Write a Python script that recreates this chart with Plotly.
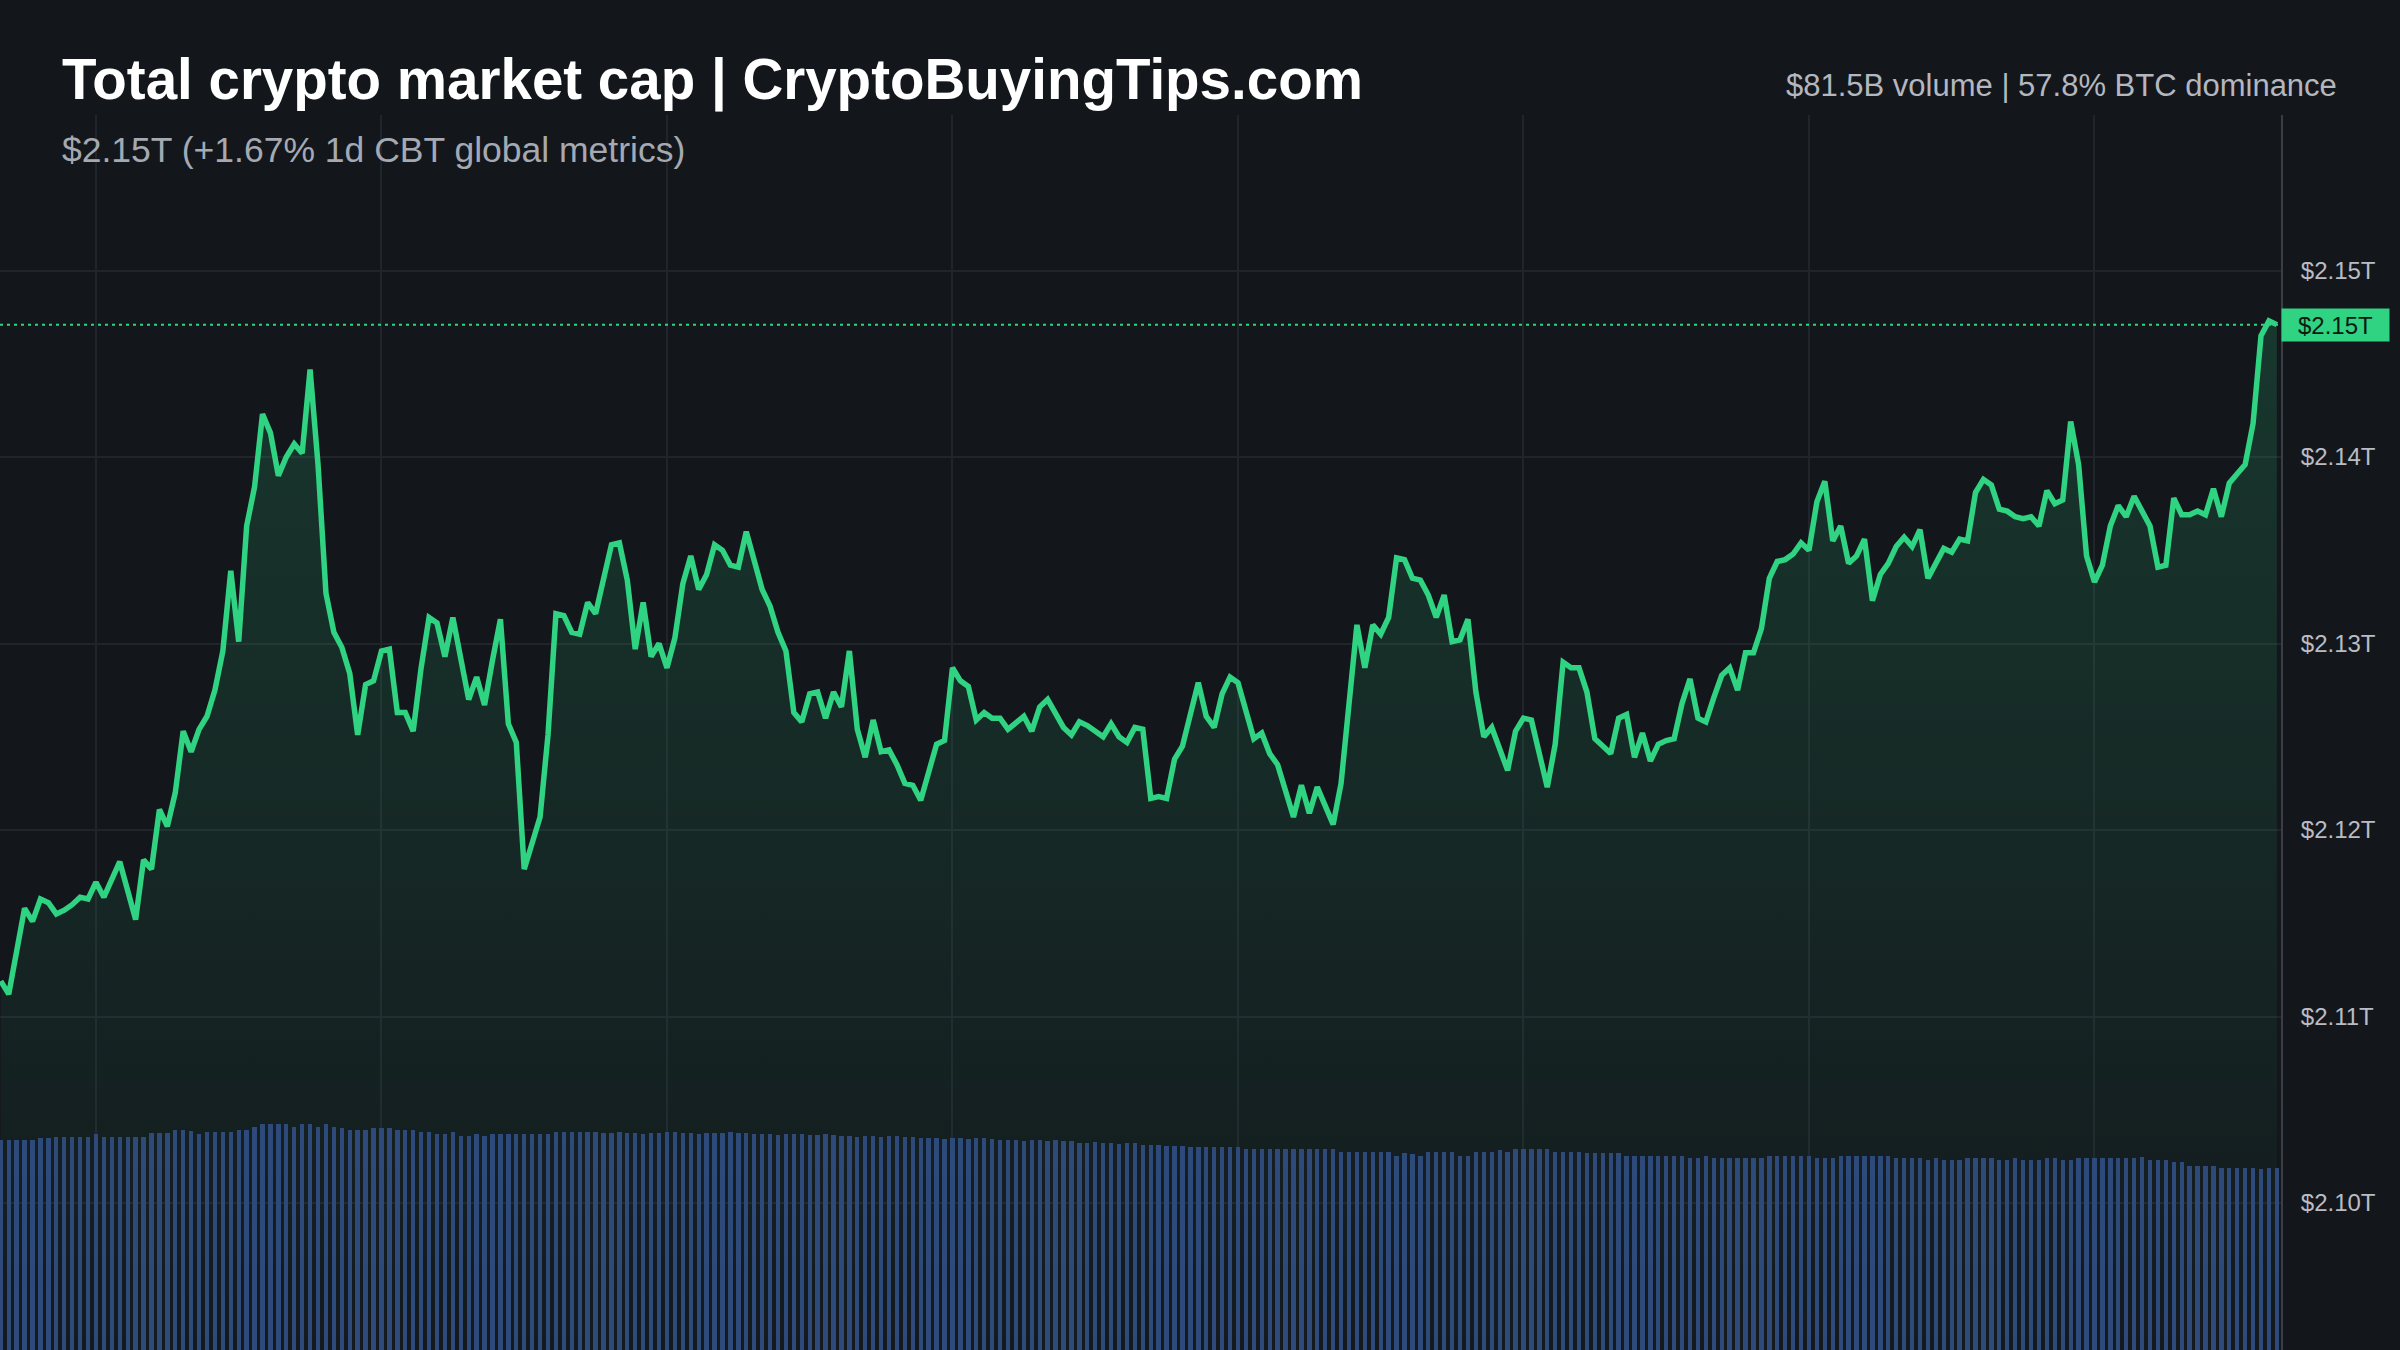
import pandas as pd
import plotly.graph_objects as go

# ---------------- text ----------------
title_text = "Total crypto market cap | CryptoBuyingTips.com"
subtitle_text = "$2.15T (+1.67% 1d CBT global metrics)"
stats_text = "$81.5B volume | 57.8% BTC dominance"
price_label = "$2.15T"

# ---------------- data ----------------
start_time = "2024-01-14 23:00"
slot_minutes = 5

# 5-minute slot index of each line vertex and market cap (trillions USD)
line_slots = [
    0, 1, 3, 4, 5, 6, 7, 8, 9, 10, 11, 12, 13, 15, 17, 18, 19, 20, 21, 22,
    23, 24, 25, 26, 27, 28, 29, 30, 31, 32, 33, 34, 35, 36, 37, 38, 39, 40, 41, 42,
    43, 44, 45, 46, 47, 48, 49, 50, 51, 52, 53, 54, 55, 56, 57, 58, 59, 60, 61, 62,
    63, 64, 65, 66, 67, 68, 69, 70, 71, 72, 73, 74, 75, 77, 78, 79, 80, 81, 82, 83,
    84, 85, 86, 87, 88, 89, 90, 91, 92, 93, 94, 95, 96, 97, 98, 99, 100, 101, 102, 103,
    104, 105, 106, 107, 108, 109, 110, 111, 112, 113, 114, 115, 116, 117, 118, 119, 120, 121, 122, 123,
    124, 125, 126, 127, 128, 129, 130, 131, 132, 133, 134, 135, 136, 137, 138, 139, 140, 141, 142, 143,
    144, 145, 146, 147, 148, 149, 150, 151, 152, 153, 154, 155, 156, 157, 158, 159, 160, 161, 162, 163,
    164, 165, 166, 167, 168, 169, 170, 171, 172, 173, 174, 175, 176, 177, 178, 179, 180, 181, 182, 183,
    184, 185, 186, 187, 188, 189, 190, 191, 192, 193, 194, 195, 196, 197, 198, 199, 200, 201, 202, 203,
    204, 205, 206, 207, 208, 209, 210, 211, 212, 213, 214, 215, 216, 217, 218, 219, 220, 221, 222, 223,
    224, 225, 226, 227, 228, 229, 230, 231, 232, 233, 234, 235, 236, 237, 238, 239, 240, 241, 242, 243,
    244, 245, 246, 247, 248, 249, 250, 251, 252, 253, 254, 255, 256, 257, 258, 259, 260, 261, 262, 263,
    264, 265, 266, 267, 268, 269, 270, 271, 272, 273, 274, 275, 276, 277, 278, 279, 280, 281, 282, 283,
    284, 285, 286, 287,
]
cap_trillions = [
    2.1119, 2.1112, 2.1158, 2.1151, 2.1163, 2.1161, 2.1155, 2.1157, 2.1160, 2.1164,
    2.1163, 2.1172, 2.1164, 2.1183, 2.1152, 2.1184, 2.1179, 2.1211, 2.1202, 2.1220,
    2.1253, 2.1242, 2.1254, 2.1261, 2.1275, 2.1296, 2.1339, 2.1301, 2.1363, 2.1384,
    2.1423, 2.1413, 2.1390, 2.1400, 2.1407, 2.1402, 2.1447, 2.1396, 2.1327, 2.1306,
    2.1298, 2.1284, 2.1251, 2.1278, 2.1280, 2.1296, 2.1297, 2.1263, 2.1263, 2.1253,
    2.1287, 2.1314, 2.1311, 2.1293, 2.1314, 2.1293, 2.1270, 2.1282, 2.1267, 2.1291,
    2.1313, 2.1257, 2.1247, 2.1179, 2.1194, 2.1207, 2.1251, 2.1316, 2.1315, 2.1306,
    2.1305, 2.1322, 2.1316, 2.1353, 2.1354, 2.1334, 2.1297, 2.1322, 2.1293, 2.1300,
    2.1287, 2.1303, 2.1332, 2.1347, 2.1329, 2.1337, 2.1353, 2.1350, 2.1342, 2.1341,
    2.1360, 2.1345, 2.1329, 2.1320, 2.1306, 2.1296, 2.1263, 2.1258, 2.1273, 2.1274,
    2.1260, 2.1274, 2.1266, 2.1296, 2.1254, 2.1239, 2.1259, 2.1242, 2.1243, 2.1235,
    2.1225, 2.1224, 2.1216, 2.1231, 2.1246, 2.1248, 2.1287, 2.1280, 2.1277, 2.1259,
    2.1263, 2.1260, 2.1260, 2.1254, 2.1258, 2.1261, 2.1253, 2.1266, 2.1270, 2.1263,
    2.1255, 2.1251, 2.1258, 2.1256, 2.1253, 2.1250, 2.1257, 2.1250, 2.1247, 2.1255,
    2.1254, 2.1217, 2.1218, 2.1217, 2.1238, 2.1245, 2.1262, 2.1279, 2.1261, 2.1255,
    2.1273, 2.1282, 2.1279, 2.1265, 2.1249, 2.1252, 2.1241, 2.1235, 2.1221, 2.1207,
    2.1224, 2.1209, 2.1223, 2.1212, 2.1203, 2.1225, 2.1265, 2.1310, 2.1287, 2.1310,
    2.1305, 2.1314, 2.1346, 2.1345, 2.1335, 2.1334, 2.1326, 2.1314, 2.1326, 2.1301,
    2.1302, 2.1313, 2.1274, 2.1250, 2.1255, 2.1243, 2.1232, 2.1253, 2.1260, 2.1259,
    2.1240, 2.1223, 2.1246, 2.1290, 2.1287, 2.1287, 2.1274, 2.1249, 2.1245, 2.1241,
    2.1260, 2.1262, 2.1239, 2.1252, 2.1237, 2.1246, 2.1248, 2.1249, 2.1268, 2.1281,
    2.1260, 2.1258, 2.1271, 2.1283, 2.1287, 2.1275, 2.1295, 2.1295, 2.1308, 2.1335,
    2.1344, 2.1345, 2.1348, 2.1354, 2.1350, 2.1376, 2.1387, 2.1355, 2.1363, 2.1343,
    2.1347, 2.1356, 2.1323, 2.1337, 2.1343, 2.1352, 2.1357, 2.1352, 2.1361, 2.1335,
    2.1343, 2.1351, 2.1349, 2.1356, 2.1355, 2.1381, 2.1388, 2.1385, 2.1372, 2.1371,
    2.1368, 2.1367, 2.1368, 2.1363, 2.1382, 2.1375, 2.1377, 2.1419, 2.1396, 2.1347,
    2.1333, 2.1342, 2.1363, 2.1374, 2.1368, 2.1379, 2.1371, 2.1363, 2.1341, 2.1342,
    2.1378, 2.1369, 2.1369, 2.1371, 2.1369, 2.1383, 2.1368, 2.1386, 2.1391, 2.1396,
    2.1418, 2.1465, 2.1473, 2.1471,
]

# volume per 5-minute slot (billions, arbitrary scale)
volume_b = [
    105, 105, 105, 105, 105, 106, 106, 106.5, 106.5, 106.5,
    106.5, 106.5, 108, 106.5, 106.5, 106.5, 106.5, 106.5, 106.5, 108.5,
    108.5, 108.5, 110, 110, 109.5, 108, 109, 109, 109, 109,
    110, 110, 111.5, 113, 113, 113, 113, 111.5, 113, 113,
    111.5, 113, 111.5, 111, 110, 110, 110, 111, 111, 111,
    110, 110, 110, 109, 109, 108, 108, 109, 107, 107,
    108, 107, 108, 108, 108, 108, 108, 108, 108, 108,
    109, 109, 109, 109, 109, 109,
    108.5, 108.5, 109, 108.5, 108.5, 108, 108.5, 108.5, 109, 109,
    108.5, 108.5, 108, 108.5, 108.5, 108.5, 109, 108.5, 108.5, 108,
    108, 108, 107.5, 108, 108, 108, 107.5, 107.5, 108, 107.5,
    107, 107, 106.5, 107, 107, 106.5, 107, 107, 106.5, 106.5,
    106, 106, 106, 105.5, 106, 106, 105.5, 106, 106, 105.5,
    105, 105, 105, 104.5, 105, 105, 104.5, 105, 104.5, 104.5,
    103.5, 103.5, 104, 103.5, 103.5, 103, 103.5, 103.5,
    102.5, 102.5, 102.5, 102, 102, 102, 101.5,
    101.5, 101.5, 101.5, 101.5, 101.5, 101.5,
    100.5, 100.5, 100.5, 100.5, 100.5, 100.5, 100.5, 100.5, 100.5, 100.5, 100.5, 100.5,
    99, 99, 99, 99, 99, 99, 99,
    97, 98.5, 98, 97,
    99, 99, 99, 99, 97, 97, 99, 99, 99, 100, 99,
    100.5, 100.5, 100.5, 100.5, 100.5,
    99, 99, 99, 99, 98.5, 98.5, 98.5, 98.5, 98.5,
    97, 97, 97, 97, 97, 97, 97, 97, 96, 96, 97,
    96, 96, 96, 96, 96, 96, 96,
    97, 97, 97, 97, 97, 97, 96, 96, 96,
    97, 97, 97, 97, 97, 97, 97, 96, 96, 96, 96,
    95, 96, 95, 95, 95, 96, 96, 96, 96, 95, 95, 96,
    95, 95, 95, 96, 96, 95, 95,
    96, 96, 96, 96, 96, 96, 96, 96, 96.5,
    95, 95, 95, 94, 94, 92, 92, 92, 92,
    91, 91, 91, 91, 91, 90.5, 91, 91,
]
assert len(volume_b) == 288
assert len(line_slots) == len(cap_trillions)

tick_values = [2.10, 2.11, 2.12, 2.13, 2.14, 2.15]
tick_labels = ["$2.10T", "$2.11T", "$2.12T", "$2.13T", "$2.14T", "$2.15T"]

# ---------------- styling ----------------
BG = "#13171c"
GRID = "#20242b"
GREEN = "#2fd382"
BAR = "#2d4a7b"
FONT = "Liberation Sans, Arial, Helvetica, sans-serif"

t0 = pd.Timestamp(start_time)
line_times = [t0 + pd.Timedelta(minutes=slot_minutes * s) for s in line_slots]
bar_times = [t0 + pd.Timedelta(minutes=slot_minutes * k) for k in range(len(volume_b))]
last_value = cap_trillions[-1]

x_range = [t0 - pd.Timedelta(seconds=30), t0 + pd.Timedelta(seconds=int(1437.6 * 60))]

fig = go.Figure()

fig.add_trace(go.Scatter(
    x=line_times, y=cap_trillions, mode="lines",
    line=dict(color=GREEN, width=5.5),
    fill="tozeroy",
    fillgradient=dict(
        type="vertical",
        colorscale=[[0, "rgba(47,211,130,0.01)"], [1, "rgba(47,211,130,0.17)"]],
        start=2.092, stop=2.147,
    ),
    hoverinfo="skip", showlegend=False,
))

fig.add_trace(go.Bar(
    x=bar_times, y=volume_b, yaxis="y2",
    marker=dict(color=BAR, line=dict(width=0)),
    width=165000, hoverinfo="skip", showlegend=False,
))

fig.add_shape(
    type="line", xref="paper", x0=0, x1=1, yref="y", y0=last_value, y1=last_value,
    line=dict(color=GREEN, width=2, dash="3px,4px"), layer="above",
)

fig.update_layout(
    width=2400, height=1350,
    margin=dict(l=0, r=119, t=115, b=0),
    paper_bgcolor=BG, plot_bgcolor=BG,
    font=dict(family=FONT, color="#b4b7bf"),
    bargap=0,
    xaxis=dict(
        type="date", range=x_range, showticklabels=False, ticks="",
        showgrid=True, gridcolor=GRID, gridwidth=1.5,
        tick0=t0 + pd.Timedelta(hours=1), dtick=3 * 3600 * 1000,
        zeroline=False, showline=False, fixedrange=True,
    ),
    yaxis=dict(
        side="right", range=[2.09212, 2.15834],
        tickvals=tick_values, ticktext=tick_labels,
        tickfont=dict(size=24, color="#b9bcc4", family=FONT),
        showgrid=True, gridcolor=GRID, gridwidth=1.5,
        showline=True, linecolor="#3a3e47", linewidth=2,
        ticks="", ticklabelstandoff=13, zeroline=False,
    ),
    yaxis2=dict(
        overlaying="y", range=[0, 617.5], visible=False, showgrid=False,
    ),
)

annotations = [
    dict(text="<b>" + title_text + "</b>", xref="paper", yref="paper",
         x=60 / 2281, y=(1350 - 80) / 1235, xanchor="left", yanchor="middle",
         showarrow=False, font=dict(size=56.5, color="#ffffff", family=FONT)),
    dict(text=subtitle_text, xref="paper", yref="paper",
         x=60 / 2281, y=(1350 - 150) / 1235, xanchor="left", yanchor="middle",
         showarrow=False, font=dict(size=35.5, color="#a5a9b2", family=FONT)),
    dict(text=stats_text, xref="paper", yref="paper",
         x=2339 / 2281, y=(1350 - 85) / 1235, xanchor="right", yanchor="middle",
         showarrow=False, font=dict(size=31, color="#b4b7bf", family=FONT)),
    dict(text=price_label, xref="paper", yref="y", x=1, y=last_value,
         xanchor="left", yanchor="middle", showarrow=False,
         bgcolor=GREEN, borderpad=3, width=101, height=26,
         font=dict(size=24, color="#0c1a12", family=FONT)),
]
fig.update_layout(annotations=annotations)

fig.write_html("out.html")
